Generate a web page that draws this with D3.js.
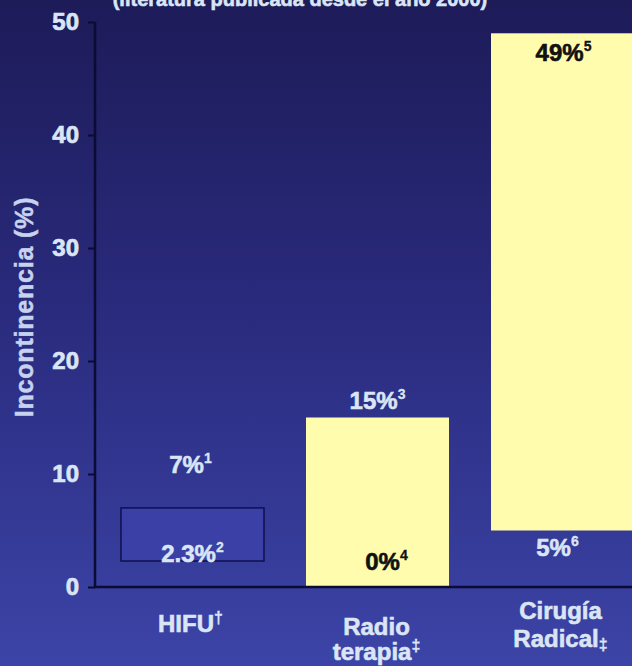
<!DOCTYPE html>
<html>
<head>
<meta charset="utf-8">
<script src="https://cdn.jsdelivr.net/npm/d3@7"></script>
<style>
  html, body { margin: 0; padding: 0; background: #2a2c7e; }
  svg { display: block; }
  text { font-family: "Liberation Sans", Arial, Helvetica, sans-serif; font-weight: bold; }
</style>
</head>
<body>
<svg id="chart" width="632" height="666"></svg>
<script>
// Incontinence rates reported per treatment (range: lowest–highest study)
const categories = ["HIFU", "Radio terapia", "Cirugía Radical"];
const categoryLines = [["HIFU"], ["Radio", "terapia"], ["Cirugía", "Radical"]];
const categoryMarks = ["†", "‡", "‡"];
const lowValues = [2.3, 0, 5];
const highValues = [7, 15, 49];
const lowRefs = ["2", "4", "6"];
const highRefs = ["1", "3", "5"];
const yTicks = [0, 10, 20, 30, 40, 50];
const titleText = "(literatura publicada desde el año  2000)";
const yTitle = "Incontinencia (%)";

const W = 632, H = 666;
const svg = d3.select("#chart");

// background gradient
const defs = svg.append("defs");
const grad = defs.append("linearGradient").attr("id", "bg")
  .attr("x1", 0).attr("y1", 0).attr("x2", 0).attr("y2", 1);
grad.append("stop").attr("offset", 0).attr("stop-color", "#1d1b58");
grad.append("stop").attr("offset", 0.45).attr("stop-color", "#292a7c");
grad.append("stop").attr("offset", 1).attr("stop-color", "#3c44a7");
svg.append("rect").attr("width", W).attr("height", H).attr("fill", "url(#bg)");

const light = "#dae5f5";
const yellow = "#fffcae";
const axisColor = "#0b0b33";

const x = d3.scaleBand().domain(categories).range([96, 659])
  .paddingInner(0.227).paddingOuter(0.135);
const y = d3.scaleLinear().domain([0, 50]).range([587, 22]);

// heavier strokes on the bold lettering
function heavy(sel, color, w) {
  return sel.attr("fill", color).attr("stroke", color).attr("stroke-width", w || 0.6)
    .attr("paint-order", "stroke");
}

// title (top edge)
heavy(svg.append("text").attr("x", 300).attr("y", 6).attr("text-anchor", "middle")
  .attr("font-size", 20), light).text(titleText);

// bars
categories.forEach((c, i) => {
  const hifu = i === 0;
  svg.append("rect")
    .attr("x", x(c)).attr("width", x.bandwidth())
    .attr("y", y(highValues[i])).attr("height", y(lowValues[i]) - y(highValues[i]))
    .attr("fill", hifu ? "#3a40a6" : yellow)
    .attr("stroke", hifu ? "#0e1050" : "none")
    .attr("stroke-width", hifu ? 1.5 : 0);
});

// value labels
function valueLabel(val, ref, cx, cy, color) {
  const t = heavy(svg.append("text").attr("x", cx).attr("y", cy)
    .attr("text-anchor", "middle").attr("font-size", 24), color);
  t.append("tspan").text(val + "%");
  t.append("tspan").attr("font-size", 14).attr("dy", -10).attr("stroke-width", 0.3).text(ref);
}
const highStyle = [
  { dx: -2, dy: -35, color: light },
  { dx: 0, dy: -9, color: light },
  { dx: 1, dy: 28, color: "#111" }
];
const lowStyle = [
  { dx: 0, dy: 1, color: light },
  { dx: 9, dy: -17, color: "#111" },
  { dx: -5, dy: 25, color: light }
];
categories.forEach((c, i) => {
  const cx = x(c) + x.bandwidth() / 2;
  valueLabel(highValues[i], highRefs[i], cx + highStyle[i].dx, y(highValues[i]) + highStyle[i].dy, highStyle[i].color);
  valueLabel(lowValues[i], lowRefs[i], cx + lowStyle[i].dx, y(lowValues[i]) + lowStyle[i].dy, lowStyle[i].color);
});

// y axis
const yAxis = svg.append("g").attr("transform", "translate(95,0)")
  .call(d3.axisLeft(y).tickValues(yTicks).tickSize(7).tickPadding(9));
yAxis.select(".domain").attr("stroke", axisColor).attr("stroke-width", 2.5)
  .attr("d", `M0,${y(50)}V${y(0)}`);
yAxis.selectAll(".tick line").attr("stroke", axisColor).attr("stroke-width", 2);
heavy(yAxis.selectAll(".tick text"), light, 0.7).attr("font-size", 24)
  .attr("font-family", "Liberation Sans, Arial, sans-serif").attr("font-weight", "bold");

// x axis baseline
svg.append("line").attr("x1", 94).attr("x2", W).attr("y1", y(0)).attr("y2", y(0))
  .attr("stroke", axisColor).attr("stroke-width", 2.5);

// y axis title
heavy(svg.append("text").attr("transform", `translate(33,307) rotate(-90)`)
  .attr("text-anchor", "middle").attr("font-size", 25).attr("letter-spacing", 0.8), "#c6d3ef", 0.5)
  .text(yTitle);

// category labels
const catBase = [[632], [635, 660], [619, 647]];
const markDy = [-9, -9, 3];
const catDx = [-2, -1, -2];
categories.forEach((c, i) => {
  const cx = x(c) + x.bandwidth() / 2 + catDx[i];
  const lines = categoryLines[i];
  lines.forEach((line, j) => {
    const t = heavy(svg.append("text").attr("x", cx).attr("y", catBase[i][j])
      .attr("text-anchor", "middle").attr("font-size", 24), light);
    t.append("tspan").text(line);
    if (j === lines.length - 1) {
      t.append("tspan").attr("font-size", 16).attr("dy", markDy[i]).attr("stroke-width", 0.3)
        .text(categoryMarks[i]);
    }
  });
});
</script>
</body>
</html>
